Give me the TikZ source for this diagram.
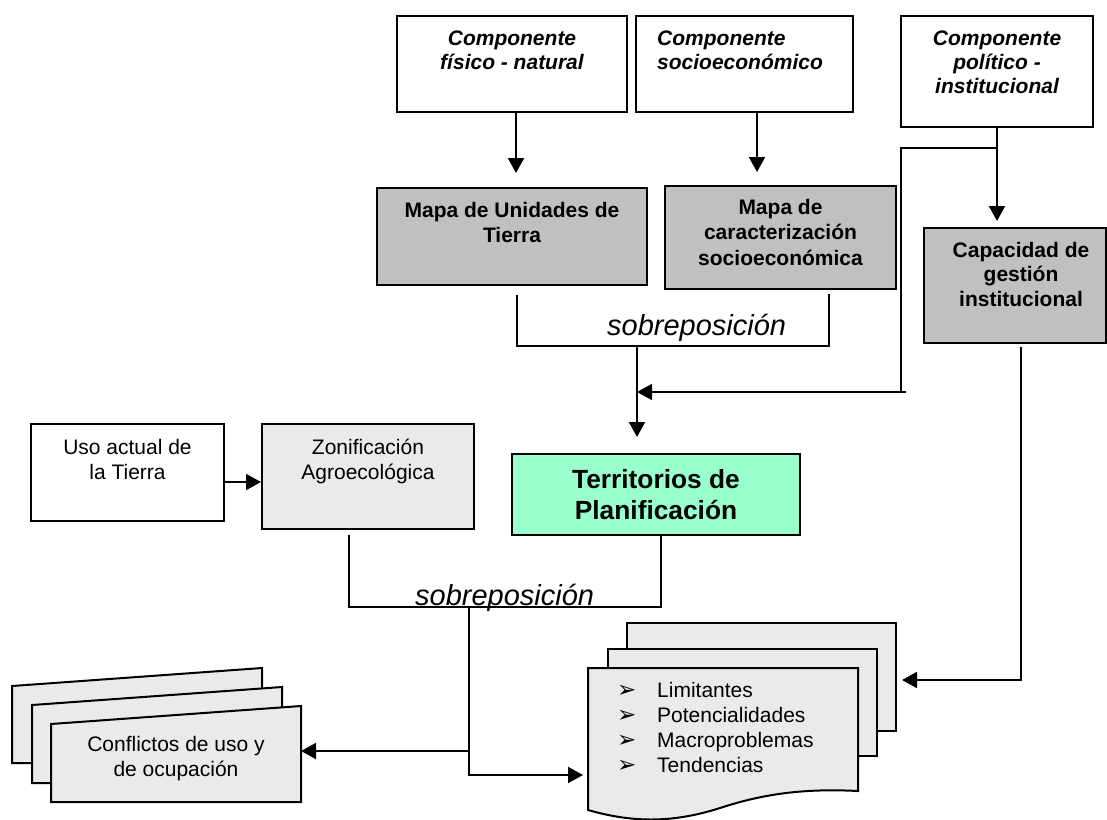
\documentclass[tikz,border=0pt]{standalone}
\usepackage{fontspec}
\setmainfont{Liberation Sans}
\newfontfamily\simbolos{DejaVu Sans}
\usetikzlibrary{arrows.meta,positioning}
\definecolor{grisoscuro}{HTML}{C0C0C0}
\definecolor{grisclaro}{HTML}{EAEAEA}
\definecolor{menta}{HTML}{99FFCC}
\newcommand{\vineta}{\makebox[40pt][l]{\simbolos\fontsize{23}{23}\selectfont ➢}}
\begin{document}
\begin{tikzpicture}[x=1pt,y=-1pt,
  borde/.style={draw, line width=2pt},
  caja/.style={borde, inner sep=0pt},
  texto/.style={inner sep=0pt, align=center, font=\fontsize{21}{25}\selectfont},
  linea/.style={line width=2pt},
  flecha/.style={line width=2pt, -{Triangle[width=16pt,length=15pt]}}]
\useasboundingbox (0,0) rectangle (1107,819);
%Componentes
\node[caja, minimum width=230pt, minimum height=96pt] (fisico) at (512,64) {};
\node[caja, minimum width=217pt, minimum height=96pt] (socio) at (744.5,64) {};
\node[caja, minimum width=192pt, minimum height=111pt] (politico) at (997,71.5) {};
\node[texto, font=\fontsize{21}{24}\selectfont\bfseries\itshape, below=16pt of fisico.north] (fisicoT) {Componente\\físico - natural};
\node[texto, align=left, font=\fontsize{21}{24}\selectfont\bfseries\itshape, below right=16pt and 22pt of socio.north west] (socioT) {Componente\\socioeconómico};
\node[texto, font=\fontsize{21}{24}\selectfont\bfseries\itshape, below=16pt of politico.north] (politicoT) {Componente\\político -\\institucional};
%Mapas
\node[caja, fill=grisoscuro, minimum width=270pt, minimum height=97pt] (mapaUT) at (512,236.5) {};
\node[caja, fill=grisoscuro, minimum width=231pt, minimum height=103pt] (mapaSE) at (780.5,237.5) {};
\node[caja, fill=grisoscuro, minimum width=182pt, minimum height=115pt] (capac) at (1015,285.5) {};
\node[texto, font=\fontsize{21}{25}\selectfont\bfseries, below=15pt of mapaUT.north] (mapaUTT) {Mapa de Unidades de\\Tierra};
\node[texto, font=\fontsize{21}{25.5}\selectfont\bfseries, below=14pt of mapaSE.north] (mapaSET) {Mapa de\\caracterización\\socioeconómica};
\node[texto, font=\fontsize{21}{24.5}\selectfont\bfseries, below=15pt of capac.north, xshift=6pt] (capacT) {Capacidad de\\gestión\\institucional};
%Flechas de arriba
\draw[flecha, shorten >=14pt] ([xshift=4pt]fisico.south) -- ([xshift=4pt]fisico.south |- mapaUT.north);
\draw[flecha, shorten >=13pt] ([xshift=12.5pt]socio.south) -- ([xshift=12.5pt]socio.south |- mapaSE.north);
\draw[flecha, shorten >=6pt] (politico.south) -- (politico.south |- capac.north);
\coordinate (polL) at (901,148);
\coordinate (polB) at (901,393);
\coordinate (polE) at (906,392);
\coordinate (une1) at (637,392);
\draw[linea] (politico.south |- polL) -- (polL) -- (polB);
\draw[flecha] (polE) -- (une1);
%Sobreposicion 1
\coordinate (b1a) at (517,295);
\coordinate (b1b) at (517,346);
\coordinate (b1c) at (829,346);
\coordinate (b1d) at (829,294);
\coordinate (sob1) at (637,346);
\draw[linea] (b1a) -- (b1b) -- (b1c) -- (b1d);
\node[inner sep=0pt, anchor=base west, font=\fontsize{29}{34}\selectfont\itshape] (sobreT1) at (607,335) {sobreposición};
%Territorios
\node[caja, fill=menta, minimum width=288pt, minimum height=81pt, align=center, font=\fontsize{26.3}{31}\selectfont\bfseries] (territ) at (656,494.5) {Territorios de\\Planificación};
\draw[flecha, shorten >=16pt] (sob1) -- (sob1 |- territ.north);
%Uso y zonificacion
\node[caja, minimum width=193pt, minimum height=97pt] (uso) at (127.5,472.5) {};
\node[caja, fill=grisclaro, minimum width=212pt, minimum height=105pt] (zonif) at (368,476.5) {};
\node[texto, below=16pt of uso.north] (usoT) {Uso actual de\\la Tierra};
\node[texto, below=16pt of zonif.north] (zonifT) {Zonificación\\Agroecológica};
\draw[flecha] ([yshift=-9.5pt]uso.east) -- ([yshift=-9.5pt]uso.east -| zonif.west);
%Sobreposicion 2
\coordinate (b2a) at (349,535);
\coordinate (b2b) at (349,607);
\coordinate (b2c) at (661,607);
\coordinate (sob2) at (469,607);
\draw[linea] (b2a) -- (b2b) -- (b2c) -- (b2c |- territ.south);
\node[inner sep=0pt, anchor=base west, font=\fontsize{29}{34}\selectfont\itshape] (sobreT2) at (415,605) {sobreposición};
%Conflictos
\draw[borde, fill=grisclaro] (12,686) -- (262,668) -- (262,763) -- (12,763) -- cycle;
\draw[borde, fill=grisclaro] (32,705) -- (282,687) -- (282,783) -- (32,783) -- cycle;
\draw[borde, fill=grisclaro] (51,724) -- (301,706) -- (301,802) -- (51,802) -- cycle;
\node[texto, anchor=north] (conflictos) at (176,736) {Conflictos de uso y\\de ocupación};
%Documento
\draw[borde, fill=grisclaro] (627,623) rectangle (896,731);
\draw[borde, fill=grisclaro] (608,649) rectangle (877,756);
\draw[borde, fill=grisclaro] (588,668) -- (858,668) -- (858,791) .. controls (800,788) and (760,795) .. (720,808) .. controls (670,824) and (630,822) .. (588,810) -- cycle;
\node[texto, align=left, anchor=north west] (lista) at (617,682) {\vineta Limitantes\\\vineta Potencialidades\\\vineta Macroproblemas\\\vineta Tendencias};
%Flechas de abajo
\coordinate (ramal) at (469,751);
\coordinate (confR) at (301,751);
\coordinate (docL) at (588,775);
\coordinate (capS) at (1021,347);
\coordinate (docR) at (896,680);
\draw[flecha, shorten >=5pt] (sob2) |- (docL);
\draw[flecha] (ramal) -- (confR);
\draw[flecha, shorten >=6pt] (capS) |- (docR);
\end{tikzpicture}
\end{document}
